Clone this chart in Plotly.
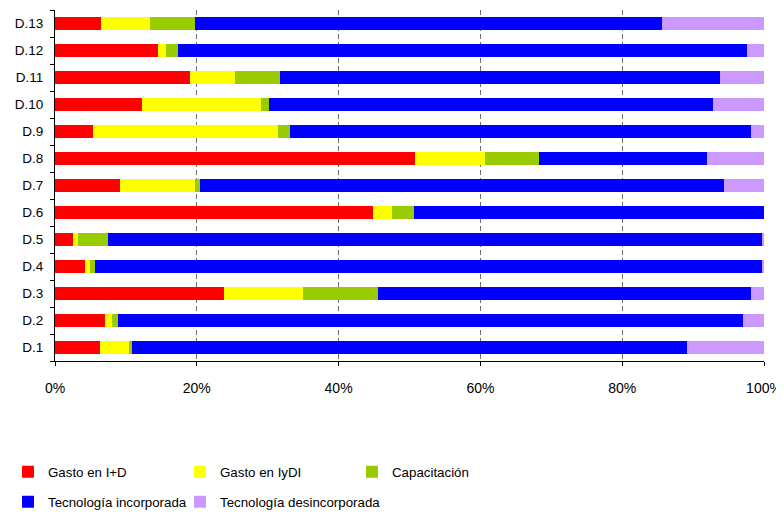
import plotly.graph_objects as go

categories = ["D.1", "D.2", "D.3", "D.4", "D.5", "D.6", "D.7",
              "D.8", "D.9", "D.10", "D.11", "D.12", "D.13"]

gasto_id = [6.3, 7.1, 23.9, 4.2, 2.6, 44.8, 9.2, 50.8, 5.4, 12.2, 19.1, 14.5, 6.5]
gasto_iydi = [4.2, 1.0, 11.1, 0.8, 0.7, 2.7, 10.6, 9.8, 26.1, 16.8, 6.3, 1.1, 6.9]
capacitacion = [0.3, 0.8, 10.6, 0.7, 4.2, 3.1, 0.6, 7.7, 1.7, 1.2, 6.4, 1.8, 6.35]
tec_incorporada = [78.4, 88.1, 52.5, 94.0, 92.2, 49.4, 73.9, 23.6, 64.9, 62.6, 62.0, 80.2, 65.8]
tec_desincorporada = [10.8, 3.0, 1.9, 0.3, 0.3, 0.0, 5.7, 8.1, 1.9, 7.2, 6.2, 2.4, 14.4]

series_names = ["Gasto en I+D", "Gasto en IyDI", "Capacitación",
                "Tecnología incorporada", "Tecnología desincorporada"]
series_values = [gasto_id, gasto_iydi, capacitacion, tec_incorporada, tec_desincorporada]
colors = ["#FF0000", "#FFFF00", "#99CC00", "#0000FF", "#CC99FF"]
legend_ids = ["legend", "legend2", "legend3", "legend4", "legend5"]

x_ticks = [0, 20, 40, 60, 80, 100]
x_ticklabels = ["0%", "20%", "40%", "60%", "80%", "100%"]

fig = go.Figure()
for name, vals, col, lg in zip(series_names, series_values, colors, legend_ids):
    fig.add_trace(go.Bar(
        y=categories, x=vals, name=name, orientation="h",
        marker=dict(color=col, line=dict(width=0)),
        legend=lg,
    ))

# page body has an 8px margin, so the figure is sized to fill the rest of the window
W, H = 776, 504
legend_font = dict(family="Liberation Sans, Arial, sans-serif", size=13.3, color="#000000")
# legend positions in figure pixels (x of left edge, y of center)
leg_pos = [(0, 464), (172, 464), (344, 464), (0, 494), (172, 494)]
leg_layout = {}
for lg, (lx, ly) in zip(legend_ids, leg_pos):
    leg_layout[lg] = dict(
        xref="container", yref="container",
        x=lx / W, y=1 - ly / H, xanchor="left", yanchor="middle",
        font=legend_font, bgcolor="rgba(0,0,0,0)", borderwidth=0,
        orientation="h", itemclick=False, itemdoubleclick=False,
        tracegroupgap=0,
    )

fig.update_layout(
    width=W, height=H,
    margin=dict(l=47, r=20, t=2, b=151, autoexpand=False),
    barmode="stack",
    bargap=0.5,
    plot_bgcolor="#FFFFFF",
    paper_bgcolor="#FFFFFF",
    font=dict(family="Liberation Sans, Arial, sans-serif", size=14, color="#000000"),
    showlegend=True,
    **leg_layout,
)

fig.update_xaxes(
    range=[0, 100],
    tickvals=x_ticks, ticktext=x_ticklabels,
    showgrid=True, gridcolor="#707070", gridwidth=1.2, griddash="5px,3px",
    showline=True, linecolor="#000000", linewidth=1,
    ticks="outside", ticklen=4, tickcolor="#000000",
    tickfont=dict(size=14),
    ticklabelstandoff=10,
    zeroline=False,
    fixedrange=True,
    automargin=False,
)
fig.update_yaxes(
    categoryorder="array", categoryarray=categories,
    showgrid=False,
    showline=True, linecolor="#000000", linewidth=1,
    ticks="outside", ticklen=4, tickcolor="#000000",
    tickson="boundaries",
    tickfont=dict(size=13.5),
    ticklabelstandoff=8,
    fixedrange=True,
    automargin=False,
)

fig.write_html("out.html")
